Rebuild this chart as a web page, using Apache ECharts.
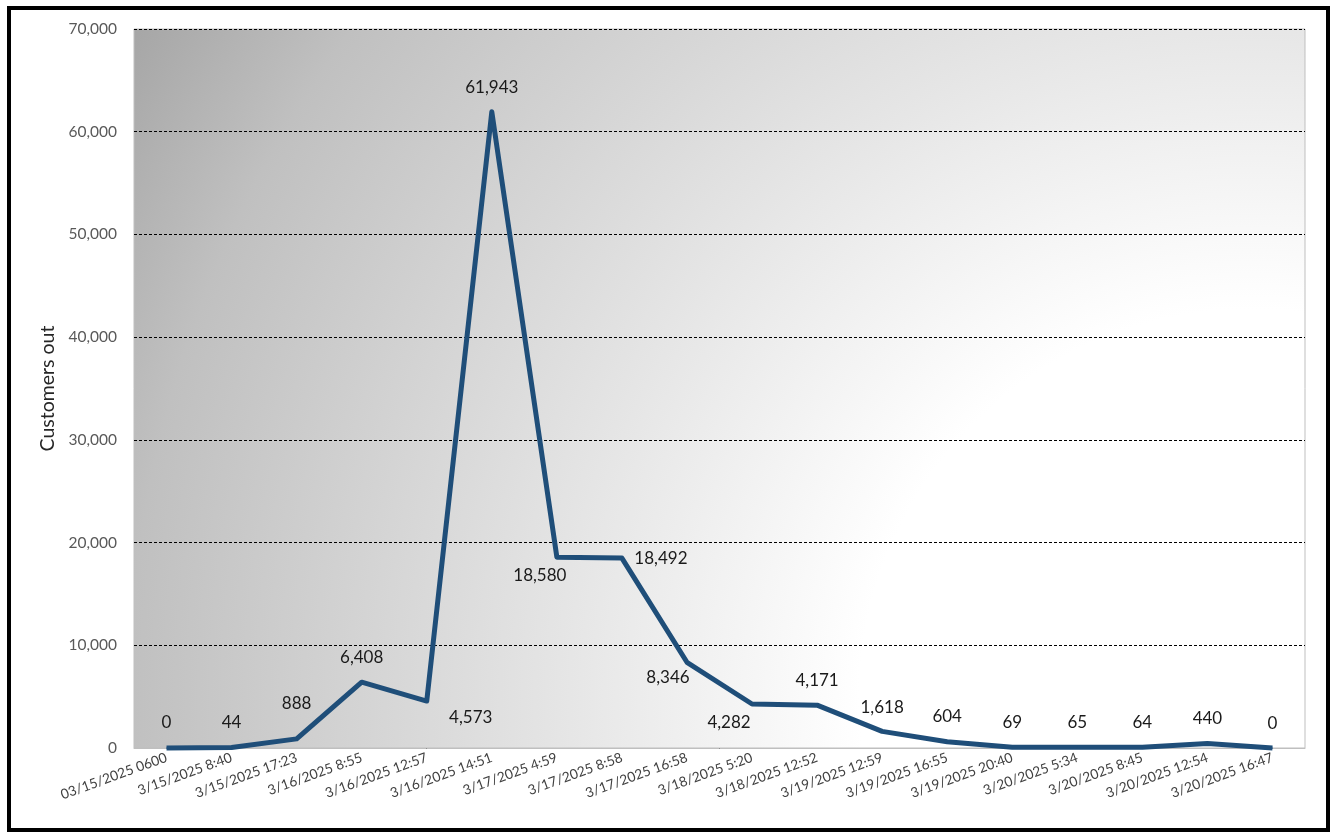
<!DOCTYPE html>
<html>
<head>
<meta charset="utf-8">
<script src="https://cdn.jsdelivr.net/npm/echarts@6/dist/echarts.min.js"></script>
<style>
html,body{margin:0;padding:0;background:#fff;}
#chart{width:1335px;height:835px;}
</style>
</head>
<body>
<div id="chart"></div>
<script>
const categories = ["03/15/2025 0600","3/15/2025 8:40","3/15/2025 17:23","3/16/2025 8:55","3/16/2025 12:57","3/16/2025 14:51","3/17/2025 4:59","3/17/2025 8:58","3/17/2025 16:58","3/18/2025 5:20","3/18/2025 12:52","3/19/2025 12:59","3/19/2025 16:55","3/19/2025 20:40","3/20/2025 5:34","3/20/2025 8:45","3/20/2025 12:54","3/20/2025 16:47"];
const customersOut = [0,44,888,6408,4573,61943,18580,18492,8346,4282,4171,1618,604,69,65,64,440,0];
const yTicks = [0,10000,20000,30000,40000,50000,60000,70000];
// label offsets (pixels) relative to each point
const labelOffsets = [[0,-25],[0,-25],[0,-35],[0,-25],[44,16],[0,-24],[-17,18],[39,0],[-19,15],[-23,18],[0,-25],[0,-24],[0,-25],[0,-25],[0,-25],[0,-25],[0,-25],[0,-24]];

const chart = echarts.init(document.getElementById('chart'));
const fmt = v => v.toLocaleString('en-US');
const FONT = 'Lato, "Open Sans", sans-serif';

chart.setOption({
  animation: false,
  graphic: [{
    type: 'rect', z: 100, silent: true,
    shape: {x: 9, y: 8, width: 1319, height: 822},
    style: {fill: 'none', stroke: '#000', lineWidth: 4}
  }],
  grid: {
    left: 134, top: 29, right: 30, bottom: 87,
    show: true,
    borderColor: '#bfbfbf', borderWidth: 1,
    backgroundColor: new echarts.graphic.RadialGradient(0.953, 0.933, 1.81, [
      {offset: 0, color: '#ffffff'},
      {offset: 0.3, color: '#ffffff'},
      {offset: 0.86, color: '#c0c0c0'},
      {offset: 1, color: '#a6a6a6'}
    ])
  },
  xAxis: {
    type: 'category',
    data: categories,
    boundaryGap: true,
    axisLine: {show: true, lineStyle: {color: '#bfbfbf', width: 1}},
    axisTick: {show: false},
    axisLabel: {
      rotate: 20, margin: 9, interval: 0,
      fontFamily: FONT, fontSize: 13.8, color: '#404040'
    },
    splitLine: {show: false}
  },
  yAxis: {
    type: 'value',
    min: yTicks[0], max: yTicks[yTicks.length - 1], interval: yTicks[1] - yTicks[0],
    name: 'Customers out',
    nameLocation: 'middle',
    nameGap: 76,
    nameTextStyle: {fontFamily: FONT, fontSize: 19.5, color: '#262626'},
    axisLine: {show: false},
    axisTick: {show: false},
    axisLabel: {
      margin: 17, fontFamily: FONT, fontSize: 15.5, color: '#595959',
      formatter: v => fmt(v)
    },
    splitLine: {show: true, lineStyle: {color: '#000', type: [3, 2], width: 1}}
  },
  series: [{
    type: 'line',
    data: customersOut.map((v, i) => ({
      value: v,
      label: {offset: labelOffsets[i]}
    })),
    clip: false,
    symbol: 'circle',
    symbolSize: 1,
    itemStyle: {color: '#1f4e79'},
    lineStyle: {color: '#1f4e79', width: 5, join: 'round'},
    label: {
      show: true, position: 'inside',
      fontFamily: FONT, fontSize: 17, color: '#1a1a1a',
      formatter: p => fmt(p.value)
    }
  }]
});
</script>
</body>
</html>
